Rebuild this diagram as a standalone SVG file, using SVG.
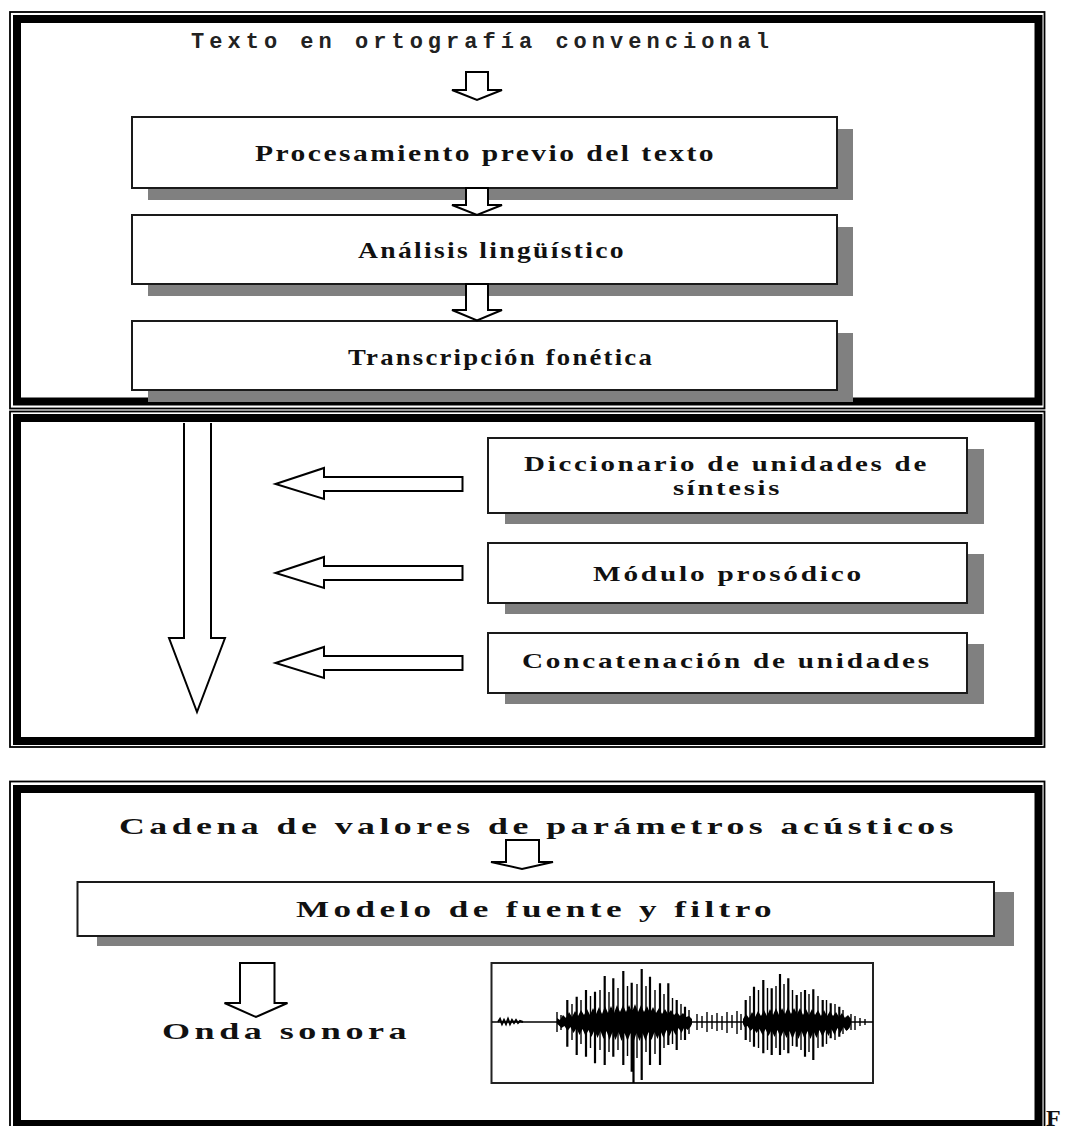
<svg xmlns="http://www.w3.org/2000/svg" width="1065" height="1126" viewBox="0 0 1065 1126">
<style>
.thin{fill:none;stroke:#000;stroke-width:1.8}
.thick{fill:none;stroke:#000;stroke-width:8}
.box{fill:#fff;stroke:#1a1a1a;stroke-width:2}
.sh{fill:#808080}
.ar{fill:#fff;stroke:#000;stroke-width:2;stroke-linejoin:miter}
.t{font-family:"Liberation Serif","Times New Roman",serif;font-weight:bold;fill:#111}
.t1{font-size:24px;letter-spacing:2px}
.t2{font-size:21px;letter-spacing:2px}
.t3{font-size:24px;letter-spacing:3px}
.m{font-family:"Liberation Mono","Courier New",monospace;font-weight:bold;font-size:22px;fill:#222}
.wv{stroke:#000;stroke-width:2.2;fill:none}
.ws{stroke:#000;stroke-width:1.4;fill:none}
</style>
<rect width="1065" height="1126" fill="#fff"/>
<g id="frames">
<rect class="thin" x="10" y="12" width="1034.5" height="396.5"/>
<rect class="thick" x="17" y="19" width="1021.5" height="382.5"/>
<rect class="thin" x="10" y="411.5" width="1034.5" height="335.5"/>
<rect class="thick" x="17" y="418" width="1021.5" height="323"/>
<rect class="thin" x="10" y="781.5" width="1034.5" height="360"/>
<rect class="thick" x="17" y="789" width="1021.5" height="335"/>
</g>
<g id="title1">
<text class="m" x="191" y="48" textLength="578" lengthAdjust="spacing">Texto en ortografía convencional</text>
</g>
<g id="n-procesamiento">
<rect class="sh" x="148" y="129" width="705" height="71"/>
<rect class="box" x="132" y="117" width="705" height="71"/>
<text class="t t1" x="255" y="161" textLength="461" lengthAdjust="spacingAndGlyphs">Procesamiento previo del texto</text>
</g>
<g id="n-analisis">
<rect class="sh" x="148" y="227" width="705" height="69"/>
<rect class="box" x="132" y="215" width="705" height="69"/>
<text class="t t1" x="358" y="258" textLength="268" lengthAdjust="spacingAndGlyphs">Análisis lingüístico</text>
</g>
<g id="n-transcripcion">
<rect class="sh" x="148" y="333" width="705" height="69"/>
<rect class="box" x="132" y="321" width="705" height="69"/>
<text class="t t1" x="348" y="365" textLength="306" lengthAdjust="spacingAndGlyphs">Transcripción fonética</text>
</g>
<g id="n-diccionario">
<rect class="sh" x="505" y="449" width="479" height="75"/>
<rect class="box" x="488" y="438" width="479" height="75"/>
<text class="t t2" x="524" y="471" textLength="405" lengthAdjust="spacingAndGlyphs">Diccionario de unidades de</text>
<text class="t t2" x="673" y="495" textLength="109" lengthAdjust="spacingAndGlyphs">síntesis</text>
</g>
<g id="n-modulo">
<rect class="sh" x="505" y="554" width="479" height="60"/>
<rect class="box" x="488" y="543" width="479" height="60"/>
<text class="t t2" x="593" y="581" textLength="271" lengthAdjust="spacingAndGlyphs">Módulo prosódico</text>
</g>
<g id="n-concatenacion">
<rect class="sh" x="505" y="644" width="479" height="60"/>
<rect class="box" x="488" y="633" width="479" height="60"/>
<text class="t t2" x="522" y="668" textLength="410" lengthAdjust="spacingAndGlyphs">Concatenación de unidades</text>
</g>
<g id="title3">
<text class="t t3" x="119" y="834" textLength="839" lengthAdjust="spacingAndGlyphs">Cadena de valores de parámetros acústicos</text>
</g>
<g id="n-modelo">
<rect class="sh" x="97" y="892" width="917" height="54"/>
<rect class="box" x="77.5" y="882" width="916.5" height="54"/>
<text class="t t3" x="296" y="917" textLength="480" lengthAdjust="spacingAndGlyphs">Modelo de fuente y filtro</text>
</g>
<g id="n-onda">
<text class="t t3" x="162" y="1039" textLength="249" lengthAdjust="spacingAndGlyphs">Onda sonora</text>
</g>
<g id="n-waveform">
<rect x="491.5" y="963" width="381.5" height="120" fill="#fff" stroke="#222" stroke-width="2"/>
<path class="ws" d="M492 1022H873"/>
<path stroke="#000" stroke-width="2" fill="none" d="M498 1022l2-3 2 5 2-4 2 4 2-5 2 5 2-4 2 3 2-3 2 3 2-2 3 1"/>
<path fill="#000" d="M557 1018L560 1020L563 1015L566 1018L569 1012L572 1017L575 1011L578 1016L581 1010L584 1015L587 1009L590 1015L593 1008L596 1014L599 1007L602 1014L605 1006L608 1013L611 1006L614 1013L617 1005L620 1012L623 1005L626 1012L629 1005L632 1012L635 1004L638 1012L641 1005L644 1012L647 1006L650 1013L653 1007L656 1013L659 1008L662 1014L665 1009L668 1014L671 1010L674 1015L677 1012L680 1016L683 1013L686 1017L689 1016L692 1019L692 1024L690.5 1027L687.5 1030L684.5 1027L681.5 1033L678.5 1028L675.5 1035L672.5 1029L669.5 1036L666.5 1030L663.5 1038L660.5 1031L657.5 1039L654.5 1032L651.5 1040L648.5 1032L645.5 1041L642.5 1033L639.5 1041L636.5 1033L633.5 1042L630.5 1033L627.5 1041L624.5 1033L621.5 1041L618.5 1032L615.5 1040L612.5 1032L609.5 1040L606.5 1031L603.5 1039L600.5 1031L597.5 1038L594.5 1030L591.5 1037L588.5 1030L585.5 1036L582.5 1029L579.5 1035L576.5 1028L573.5 1033L570.5 1027L567.5 1031L564.5 1026L561.5 1028L558.5 1025L557 1024Z"/>
<path fill="#000" d="M743 1019L746 1014L749 1018L752 1012L755 1017L758 1011L761 1016L764 1010L767 1016L770 1009L773 1015L776 1008L779 1015L782 1008L785 1014L788 1007L791 1014L794 1008L797 1014L800 1008L803 1015L806 1009L809 1015L812 1009L815 1015L818 1010L821 1016L824 1010L827 1016L830 1011L833 1016L836 1012L839 1017L842 1013L845 1018L848 1015L851 1019L851 1024L849.5 1028L846.5 1031L843.5 1027L840.5 1033L837.5 1028L834.5 1035L831.5 1029L828.5 1036L825.5 1030L822.5 1037L819.5 1030L816.5 1038L813.5 1031L810.5 1039L807.5 1031L804.5 1039L801.5 1031L798.5 1039L795.5 1031L792.5 1039L789.5 1031L786.5 1038L783.5 1031L780.5 1038L777.5 1030L774.5 1037L771.5 1030L768.5 1036L765.5 1029L762.5 1035L759.5 1029L756.5 1033L753.5 1028L750.5 1031L747.5 1026L744.5 1027L743 1024Z"/>
<path class="wv" d="M567.3 1000V1046.7M576.7 996.7V1055M586 990V1056.7M595 991.7V1063.3M604.7 976V1065M613.3 978.3V1056.7M623.3 971V1065M631.7 982.7V1071.7M641.7 969V1080M650 976.7V1065M660 983.3V1065M668.3 983.3V1045M676.7 1000V1050M685 1006.7V1040M633.5 1010V1083"/>
<path class="ws" d="M557 1012V1032M561 1015V1030M572 1004V1040M581 1000V1044M590.5 996V1048M600 990V1050M609 992V1052M618 988V1050M627.5 986V1056M637 984V1058M646 986V1052M655 990V1054M664 994V1048M672.5 998V1044M681 1004V1040M689 1010V1034"/>
<path class="ws" d="M697 1014V1030M702 1016V1028M707 1012V1032M712 1015V1029M717 1013V1031M722 1016V1030M727 1012V1033M732 1015V1028M737 1011V1034M741 1014V1030"/>
<path class="wv" d="M745.7 1000V1040M754 986.7V1046.7M763.3 980V1053.3M771.7 988.3V1055M780 974V1055M788.3 978.3V1053.3M796.7 995V1046.7M805 990V1056.7M813.3 989.3V1060M822.7 1000V1046.7M830.7 1003.3V1038.3M839.3 1006.7V1036.7M846.7 1016.7V1030"/>
<path class="ws" d="M750 996V1042M758.5 990V1048M767.5 988V1050M776 986V1048M784 984V1050M792.5 990V1046M801 992V1050M809 994V1052M818 996V1048M826.5 1000V1044M835 1004V1040M843 1010V1034M851 1014V1030M855 1016V1030M860 1018V1026M865 1019V1025"/>
</g>
<g id="connectors">
<path class="ar" d="M466 72H488V90H502L477 100L452 90H466Z"/>
<path class="ar" d="M466 188H488V205H502L477 215L452 205H466Z"/>
<path class="ar" d="M466 284H488V310H502L477 320.5L452 310H466Z"/>
<path class="ar" d="M184 423V638H169L197 712L225 638H211V423"/>
<path class="ar" d="M462.5 477H324V468L275.5 484L324 499V491H462.5Z"/>
<path class="ar" d="M462.5 566H324V557L275.5 573L324 588V580H462.5Z"/>
<path class="ar" d="M462.5 656H324V647L275.5 663L324 678V670H462.5Z"/>
<path class="ar" d="M506 840H539V862H553L522 869L491 862H506Z"/>
<path class="ar" d="M240 963H274.5V1003H287.5L256 1017L224.5 1003H240Z"/>
</g>
<text class="t" x="1046" y="1126" font-size="24">F</text>
</svg>
